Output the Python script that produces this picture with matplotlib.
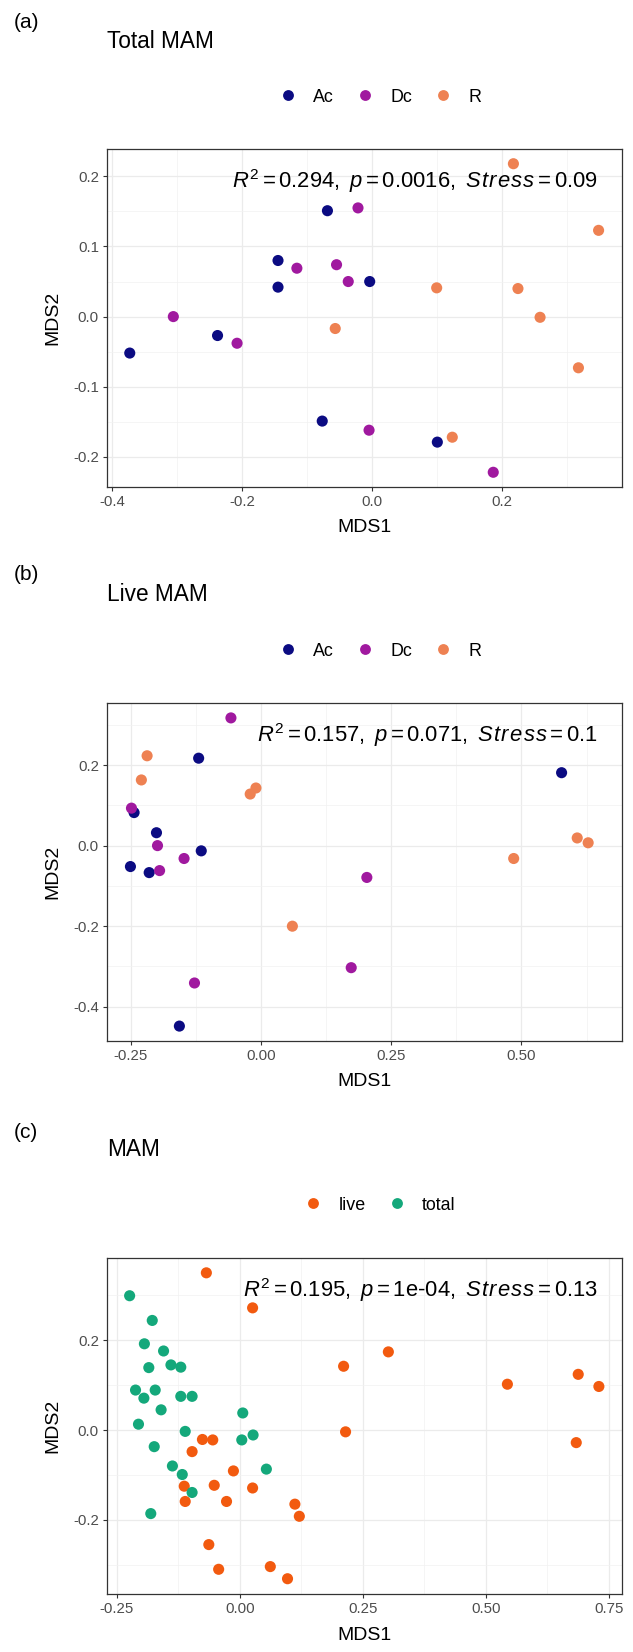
import matplotlib
matplotlib.use('Agg')
import matplotlib.pyplot as plt
from matplotlib.lines import Line2D
from matplotlib.ticker import FixedLocator

plt.rcParams['font.family'] = ['Liberation Sans', 'DejaVu Sans']
plt.rcParams['mathtext.fontset'] = 'custom'
plt.rcParams['mathtext.rm'] = 'Liberation Sans'
plt.rcParams['mathtext.it'] = 'Liberation Sans:italic'

# ---------------- data ----------------
# Panel (a) Total MAM
ac_a_x = [-0.373, -0.238, -0.145, -0.145, -0.069, -0.004, -0.077, 0.100]
ac_a_y = [-0.052, -0.027, 0.080, 0.042, 0.151, 0.050, -0.149, -0.179]
dc_a_x = [-0.306, -0.208, -0.116, -0.055, -0.037, -0.022, -0.005, 0.186]
dc_a_y = [0.000, -0.038, 0.069, 0.074, 0.050, 0.155, -0.162, -0.222]
r_a_x = [0.217, 0.348, 0.099, 0.224, 0.258, -0.057, 0.317, 0.123]
r_a_y = [0.218, 0.123, 0.041, 0.040, -0.001, -0.017, -0.073, -0.172]

# Panel (b) Live MAM
ac_b_x = [-0.251, -0.244, -0.201, -0.215, -0.120, -0.115, -0.157, 0.577]
ac_b_y = [-0.052, 0.082, 0.032, -0.067, 0.217, -0.013, -0.448, 0.181]
dc_b_x = [-0.058, -0.249, -0.199, -0.195, -0.148, -0.128, 0.203, 0.173]
dc_b_y = [0.317, 0.093, 0.000, -0.062, -0.032, -0.341, -0.079, -0.303]
r_b_x = [-0.219, -0.230, -0.021, -0.010, 0.060, 0.485, 0.607, 0.628]
r_b_y = [0.223, 0.163, 0.128, 0.143, -0.200, -0.032, 0.019, 0.007]

# Panel (c) MAM
live_x = [-0.068, 0.026, 0.302, 0.211, 0.544, 0.688, 0.730, 0.215, 0.684,
          -0.076, -0.055, -0.097, -0.013, -0.113, -0.052, 0.026, -0.111,
          -0.027, 0.112, 0.121, -0.063, -0.043, 0.062, 0.097]
live_y = [0.350, 0.272, 0.174, 0.142, 0.102, 0.124, 0.097, -0.004, -0.028,
          -0.021, -0.022, -0.048, -0.091, -0.125, -0.123, -0.129, -0.159,
          -0.159, -0.165, -0.192, -0.255, -0.310, -0.304, -0.331]
total_x = [-0.224, -0.178, -0.194, -0.155, -0.185, -0.140, -0.120, -0.212,
           -0.172, -0.195, -0.120, -0.097, -0.160, -0.206, 0.006, -0.111,
           -0.174, 0.004, 0.027, -0.137, -0.117, 0.054, -0.097, -0.181]
total_y = [0.299, 0.244, 0.192, 0.176, 0.139, 0.145, 0.140, 0.089,
           0.089, 0.071, 0.075, 0.075, 0.045, 0.013, 0.038, -0.003,
           -0.037, -0.022, -0.011, -0.080, -0.099, -0.087, -0.139, -0.186]

groups_ab = ['Ac', 'Dc', 'R']
groups_c = ['live', 'total']
colors_ab = ['#0B0B82', '#A0199F', '#EE8152']
colors_c = ['#F25A0F', '#14A87B']

panel_tags = ['(a)', '(b)', '(c)']
panel_titles = ['Total MAM', 'Live MAM', 'MAM']
STRESS = r'S\hspace{0.07}t\hspace{0.07}r\hspace{0.07}e\hspace{0.07}s\hspace{0.07}s'
stat_texts = [r'$R^2=0.294,\ p=0.0016,\ ' + STRESS + r'=0.09$',
              r'$R^2=0.157,\ p=0.071,\ ' + STRESS + r'=0.1$',
              r'$R^2=0.195,\ p=\mathrm{1e}\text{-}04,\ ' + STRESS + r'=0.13$']

xticks_a = [-0.4, -0.2, 0.0, 0.2]
xlabels_a = ['-0.4', '-0.2', '0.0', '0.2']
yticks_a = [-0.2, -0.1, 0.0, 0.1, 0.2]
ylabels_a = ['-0.2', '-0.1', '0.0', '0.1', '0.2']
xticks_b = [-0.25, 0.0, 0.25, 0.5]
xlabels_b = ['-0.25', '0.00', '0.25', '0.50']
yticks_b = [-0.4, -0.2, 0.0, 0.2]
ylabels_b = ['-0.4', '-0.2', '0.0', '0.2']
xticks_c = [-0.25, 0.0, 0.25, 0.5, 0.75]
xlabels_c = ['-0.25', '0.00', '0.25', '0.50', '0.75']
yticks_c = [-0.2, 0.0, 0.2]
ylabels_c = ['-0.2', '0.0', '0.2']

# ---------------- layout ----------------
W, H = 633, 1652
fig = plt.figure(figsize=(W / 100, H / 100), dpi=100)


def fx(px):
    return px / W


def fy(py):
    return 1 - py / H


def minor_breaks(major, lo, hi):
    d = major[1] - major[0]
    b = list(major)
    if lo < b[0]:
        b = [b[0] - d] + b
    if hi > b[-1]:
        b = b + [b[-1] + d]
    m = [(b[i] + b[i + 1]) / 2 for i in range(len(b) - 1)]
    return [v for v in m if lo <= v <= hi]


box_left, box_right = 107, 622
panels = [
    dict(top=149, bottom=487, xlim=(-0.408, 0.384), ylim=(-0.243, 0.239),
         xt=xticks_a, xl=xlabels_a, yt=yticks_a, yl=ylabels_a,
         series=[(ac_a_x, ac_a_y), (dc_a_x, dc_a_y), (r_a_x, r_a_y)],
         labels=groups_ab, colors=colors_ab, tag_y=22, title_y=41, leg_y=97),
    dict(top=703, bottom=1041, xlim=(-0.296, 0.693), ylim=(-0.485, 0.354),
         xt=xticks_b, xl=xlabels_b, yt=yticks_b, yl=ylabels_b,
         series=[(ac_b_x, ac_b_y), (dc_b_x, dc_b_y), (r_b_x, r_b_y)],
         labels=groups_ab, colors=colors_ab, tag_y=575, title_y=595, leg_y=651),
    dict(top=1258, bottom=1594, xlim=(-0.270, 0.777), ylim=(-0.365, 0.383),
         xt=xticks_c, xl=xlabels_c, yt=yticks_c, yl=ylabels_c,
         series=[(live_x, live_y), (total_x, total_y)],
         labels=groups_c, colors=colors_c, tag_y=1132, title_y=1150, leg_y=1205),
]

for i, p in enumerate(panels):
    hpx = p['bottom'] - p['top']
    ax = fig.add_axes([fx(box_left), fy(p['bottom']),
                       (box_right - box_left) / W, hpx / H])
    for (xs, ys), c in zip(p['series'], p['colors']):
        ax.scatter(xs, ys, s=64, color=c, edgecolors='none', zorder=3)
    ax.set_xlim(*p['xlim'])
    ax.set_ylim(*p['ylim'])
    ax.xaxis.set_major_locator(FixedLocator(p['xt']))
    ax.set_xticklabels(p['xl'])
    ax.yaxis.set_major_locator(FixedLocator(p['yt']))
    ax.set_yticklabels(p['yl'])
    ax.xaxis.set_minor_locator(FixedLocator(minor_breaks(p['xt'], *p['xlim'])))
    ax.yaxis.set_minor_locator(FixedLocator(minor_breaks(p['yt'], *p['ylim'])))
    ax.grid(which='major', color='#EBEBEB', lw=0.9)
    ax.grid(which='minor', color='#F2F2F2', lw=0.5)
    ax.set_axisbelow(True)
    ax.tick_params(which='major', length=2.6, width=0.8, color='#333333',
                   labelcolor='#4D4D4D', labelsize=10.8, pad=3.2)
    ax.tick_params(which='minor', length=0)
    for sp in ax.spines.values():
        sp.set_color('#333333')
        sp.set_linewidth(0.9)
    ax.set_xlabel('MDS1', fontsize=14, va='center')
    ax.xaxis.set_label_coords(0.5, -41 / hpx)
    ax.set_ylabel('MDS2', fontsize=14, va='center')
    ax.yaxis.set_label_coords(-54 / (box_right - box_left), 0.5)
    ax.text(0.953, 0.905, stat_texts[i], transform=ax.transAxes,
            ha='right', va='center', fontsize=15.8)

    fig.text(fx(14), fy(p['tag_y']), panel_tags[i], fontsize=15, va='center', ha='left')
    fig.text(fx(box_left), fy(p['title_y']), panel_titles[i], fontsize=16.3,
             va='center', ha='left')
    handles = [Line2D([], [], ls='none', marker='o', markersize=7.8,
                      markerfacecolor=c, markeredgecolor='none') for c in p['colors']]
    fig.legend(handles, p['labels'], loc='center',
               bbox_to_anchor=(fx(380), fy(p['leg_y'])), ncol=len(handles),
               frameon=False, fontsize=12.9, handlelength=1.0,
               handletextpad=0.9, columnspacing=1.25, borderpad=0.0)

fig.savefig('out.png', dpi=100)
